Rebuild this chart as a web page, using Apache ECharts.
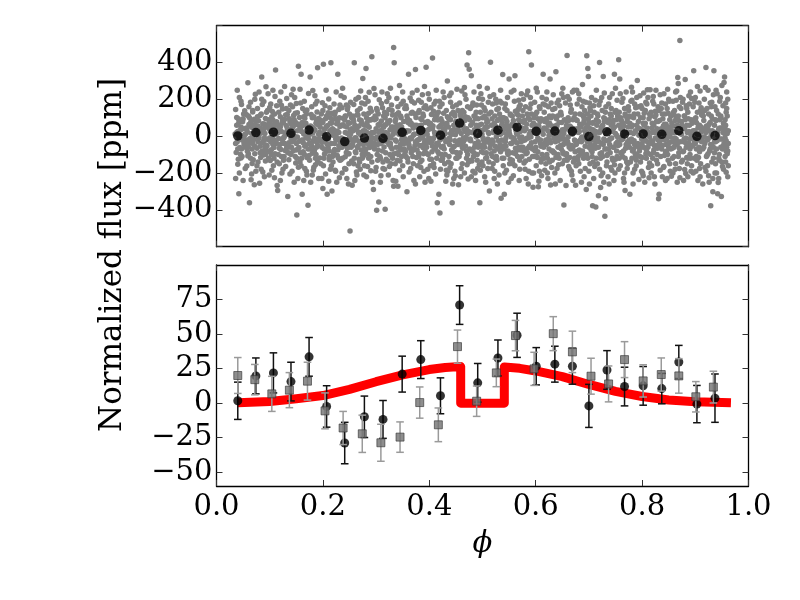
<!DOCTYPE html>
<html>
<head>
<meta charset="utf-8">
<script src="https://cdn.jsdelivr.net/npm/echarts/dist/echarts.min.js"></script>
<style>html,body{margin:0;padding:0;background:#fff;}#chart{width:800px;height:600px;}</style>
</head>
<body>
<div id="chart"></div>
<script>
// Top panel raw points: flat pairs (phase x 1000, flux in ppm)
const rawPoints = [
35,12,37,-88,36,145,39,-30,38,60,40,-152,41,95,42,-5,43,210,44,-61,45,33,46,-118,47,172,48,-20,49,78,50,-240,51,120,52,-45,53,8,54,-175,36,-230,42,-312,45,-98,38,102,47,-70,50,40,53,138,41,-125,44,5,39,250,52,-15,49,88,46,190,54,-60,40,25,43,-200,
55,-40,56,118,57,-162,58,22,59,290,60,-95,61,64,62,-362,63,-12,64,185,65,-236,66,48,67,-70,68,132,69,-128,70,7,71,92,72,-55,73,228,74,-190,57,35,59,-108,61,160,63,-25,65,80,67,-148,69,15,71,-263,73,55,58,-82,60,110,62,-38,64,70,66,-205,68,140,70,-18,72,200,74,30,
75,28,76,-66,77,150,78,-140,79,84,80,-8,81,-255,82,112,83,42,84,-180,85,321,86,-35,87,68,88,-102,89,188,90,-220,91,15,92,96,93,-48,94,130,76,-160,78,55,80,240,82,-90,84,18,86,172,88,-28,90,66,92,-135,94,-76,77,105,79,-10,81,45,83,-115,85,200,87,-195,89,38,91,-58,93,268,
95,-52,96,140,97,-18,98,90,99,-210,100,36,101,-132,102,175,103,-74,104,62,105,-6,106,250,107,-160,108,20,109,120,110,-95,111,360,112,-40,113,78,114,-268,96,48,98,-120,100,156,102,-30,104,-185,106,88,108,-62,110,215,112,10,114,-140,97,230,99,72,101,-8,103,-100,105,134,107,52,109,-225,111,-22,113,165,
115,-295,116,60,117,-12,118,-150,119,190,120,105,121,-72,122,25,123,-200,124,148,125,-38,126,80,127,-110,128,270,129,5,130,-165,131,58,132,-60,133,118,134,-328,116,-100,118,36,120,-240,122,168,124,-20,126,-130,128,92,130,14,132,205,134,-88,117,130,119,-45,121,240,123,70,125,-180,127,-5,129,-78,131,150,133,45,
135,20,136,-128,137,95,138,-58,139,170,140,-12,141,225,142,-190,143,46,144,-80,145,112,146,-250,147,-2,148,62,149,-145,150,178,151,-428,152,30,153,-70,154,380,136,140,138,-205,140,68,142,-30,144,255,146,90,148,-110,150,-40,152,128,154,-168,137,-92,139,18,141,-60,143,160,145,-15,147,210,149,75,151,-120,153,-230,
155,-62,156,102,157,-140,158,40,159,337,160,-22,161,-315,162,150,163,-85,164,12,165,190,166,-175,167,66,168,-48,169,120,170,-210,171,4,172,-375,173,232,174,-105,156,-28,158,180,160,-120,162,58,164,-240,166,98,168,-8,170,142,172,-70,174,28,157,255,159,-160,161,75,163,-35,165,-98,167,135,169,-190,171,50,173,-15,
175,-130,176,321,177,55,178,-40,179,160,180,-92,181,18,182,-185,183,105,184,-10,185,220,186,-155,187,70,188,-60,189,132,190,371,191,-26,192,-230,193,88,194,-118,176,10,178,118,180,-210,182,46,184,-78,186,175,188,-32,190,-140,192,96,194,22,177,-250,179,-55,181,248,183,-168,185,35,187,-100,189,190,191,62,193,-12,
195,48,196,-150,197,120,198,-34,199,80,200,-284,201,391,202,15,203,-96,204,165,205,-205,206,-4,207,110,208,-315,209,58,210,-62,211,202,212,-128,213,30,214,-180,196,86,198,-230,200,140,202,-70,204,6,206,250,208,-44,210,128,212,-110,214,72,197,-18,199,182,201,-160,203,38,205,95,207,-82,209,-12,211,-245,213,155,
215,399,216,-40,217,-297,218,90,219,-140,220,25,221,175,222,-72,223,130,224,-190,225,10,226,68,227,-105,228,337,229,-20,230,145,231,-225,232,52,233,-60,234,220,216,-160,218,40,220,-95,222,118,224,-15,226,-250,228,82,230,-52,232,170,234,-128,217,125,219,5,221,-85,223,-185,225,240,227,28,229,-118,231,100,233,-30,
235,-10,236,155,237,-120,238,62,239,-48,240,210,241,-175,242,20,243,108,244,-88,245,-230,246,145,247,-28,248,75,249,-150,250,-8,251,-515,252,185,253,-60,254,40,236,-200,238,98,240,-25,242,-112,244,170,246,-65,248,-260,250,120,252,12,254,-135,237,260,239,-35,241,88,243,-180,245,50,247,160,249,-95,251,30,253,-20,
255,-266,256,110,257,-30,258,-150,259,399,260,60,261,-85,262,200,263,-20,264,-210,265,138,266,-55,267,18,268,-125,269,90,270,-180,271,245,272,-40,273,70,274,-100,256,28,258,172,260,-240,262,-8,264,115,266,-160,268,55,270,150,272,-75,274,-25,257,95,259,-120,261,35,263,-195,265,-62,267,210,269,-140,271,8,273,180,
275,313,276,-45,277,120,278,-160,279,30,280,-90,281,368,282,-220,283,75,284,-15,285,190,286,-120,287,48,288,-62,289,152,290,-188,291,15,292,431,293,-250,294,95,276,-108,278,60,280,210,282,-30,284,-165,286,125,288,-8,290,88,292,-140,294,-50,277,-210,279,175,281,-70,283,20,285,-100,287,238,289,-25,291,135,293,-35,
295,-290,296,259,297,-70,298,110,299,-12,300,-170,301,-402,302,140,303,-45,304,62,305,-357,306,198,307,-110,308,30,309,-215,310,82,311,-28,312,155,313,-140,314,5,296,-60,298,225,300,40,302,-100,304,120,306,-20,308,-250,310,178,312,-80,314,48,297,90,299,-190,301,150,303,-130,305,22,307,68,309,-40,311,240,313,-175,
315,-58,316,130,317,-397,318,20,319,-125,320,188,321,-30,322,80,323,-210,324,145,325,-5,326,-100,327,260,328,-150,329,50,330,-70,331,115,332,-240,333,482,334,399,316,-180,318,62,320,-20,322,-135,324,210,326,35,328,-60,330,140,332,10,334,-95,317,100,319,-15,321,230,323,72,325,-165,327,-40,329,170,331,-120,333,-272,
335,40,336,-150,337,92,338,-28,339,205,340,-90,341,-272,342,128,343,10,344,-185,345,62,346,-45,347,175,348,-110,349,-10,350,240,351,-220,352,80,353,-70,354,150,336,-20,338,118,340,-130,342,30,344,275,346,-75,348,50,350,-160,352,-5,354,-95,337,-245,339,58,341,160,343,-60,345,-135,347,100,349,20,351,190,353,-40,
355,-82,356,165,357,-20,358,-301,359,95,360,-140,361,337,362,28,363,-65,364,208,365,-175,366,70,367,-8,368,130,369,-110,370,45,371,-240,372,180,373,-50,374,362,356,20,358,110,360,-30,362,-195,364,65,366,-90,368,235,370,-150,372,12,374,-259,357,150,359,-120,361,-40,363,85,365,-15,367,190,369,55,371,-75,373,120,
375,102,376,-38,377,250,378,-160,379,15,380,-92,381,140,382,-220,383,58,384,-5,385,185,386,-130,387,36,388,-62,389,110,390,-190,391,270,392,-25,393,75,394,375,376,-115,378,48,380,195,382,-50,384,-170,386,90,388,-10,390,155,392,-250,394,30,377,-75,379,128,381,-18,383,-140,385,60,387,225,389,-95,391,-35,393,165,
395,-60,396,148,397,-180,398,35,399,-10,400,200,401,-125,402,70,403,-245,404,118,405,-30,406,424,407,55,408,-150,409,175,410,-70,411,12,412,-205,413,95,414,-40,396,-95,398,230,400,-20,402,-160,404,60,406,-55,408,135,410,20,412,190,414,-120,397,80,399,-230,401,40,403,155,405,-85,407,-15,409,-170,411,110,413,250,
415,-361,416,-40,417,130,418,-315,419,20,420,-417,421,-180,422,95,423,-60,424,175,425,-120,426,40,427,-8,428,210,429,-150,430,65,431,-30,432,140,433,-210,434,300,416,88,418,-95,420,160,422,-15,424,-130,426,240,428,-70,430,15,432,-185,434,105,417,-45,419,190,421,58,423,-100,425,-5,427,125,429,35,431,-245,433,70,
435,-190,436,50,437,-110,438,220,439,-20,440,90,441,-150,442,30,443,-361,444,160,445,-60,446,-230,447,120,448,-190,449,8,450,75,451,-88,452,255,453,-35,454,140,436,-140,438,-10,440,185,442,-75,444,-260,446,60,448,110,450,-120,452,25,454,-45,437,95,439,-170,441,235,443,10,445,130,447,-55,449,-215,451,170,453,-95,
455,-263,456,30,457,180,458,-90,459,110,460,-40,461,245,462,-150,463,60,464,-10,465,130,466,-200,467,85,468,-55,469,200,470,-120,471,386,472,15,473,-232,474,453,456,-110,458,70,460,-175,462,140,464,-30,466,265,468,25,470,-80,472,160,474,-140,457,-20,459,-220,461,95,463,-65,465,40,467,225,469,-5,471,-155,473,100,
475,364,476,-70,477,150,478,-25,479,328,480,-135,481,75,482,-190,483,20,484,240,485,-60,486,110,487,-240,488,-5,489,170,490,-100,491,48,492,-30,493,205,494,-155,476,90,478,-130,480,20,482,180,484,-90,486,-200,488,130,490,55,492,-60,494,270,477,-15,479,-220,481,165,483,-110,485,35,487,95,489,-45,491,-175,493,60,
495,-361,496,130,497,-50,498,65,499,-140,500,200,501,-10,502,-90,503,155,504,-220,505,40,506,-120,507,95,508,-30,509,260,510,-175,511,20,512,120,513,-297,514,-65,496,-185,498,170,500,-60,502,35,504,110,506,-250,508,75,510,-15,512,-140,514,215,497,230,499,10,501,-160,503,-40,505,140,507,-90,509,50,511,185,513,-25,
515,402,516,-95,517,60,518,-20,519,175,520,-150,521,30,522,-230,523,110,524,-55,525,200,526,-5,527,-130,528,85,529,-70,530,150,531,-210,532,15,533,-45,534,250,516,130,518,-175,520,-30,522,70,524,-120,526,180,528,-260,530,25,532,95,534,-85,517,-40,519,-110,521,225,523,-190,525,50,527,145,529,10,531,-65,533,190,
535,-337,536,60,537,-120,538,335,539,20,540,-70,541,-315,542,150,543,-30,544,95,545,-185,546,5,547,210,548,-100,549,45,550,310,551,-150,552,120,553,-40,554,-230,536,180,538,-55,540,100,542,-200,544,-10,546,140,548,-80,550,30,552,-125,554,240,537,75,539,-160,541,-25,543,175,545,60,547,-90,549,-250,551,12,553,115,
555,-40,556,-130,557,-150,558,85,559,-10,560,190,561,328,562,-95,563,30,564,40,565,120,566,-75,567,145,568,-60,569,160,570,-180,571,25,572,-30,573,230,574,-110,556,65,558,-215,560,-20,562,135,564,-70,566,10,568,195,570,-130,572,80,574,-5,557,-90,559,250,561,-160,563,55,565,-35,567,115,569,-240,571,170,573,-60,
575,110,576,-60,577,200,578,-145,579,30,580,-20,581,160,582,-230,583,65,584,-90,585,245,586,-10,587,458,588,-125,589,90,590,-50,591,175,592,386,593,-200,594,20,576,140,578,-80,580,-180,582,40,584,120,586,-260,588,10,590,210,592,-35,594,-110,577,-15,579,85,581,-135,583,225,585,-65,587,-190,589,150,591,-5,593,60,
595,-277,596,70,597,-110,598,185,599,-30,600,120,601,-160,602,15,603,240,604,-85,605,-275,606,55,607,-190,608,150,609,-20,610,95,611,-125,612,210,613,-50,614,337,596,-200,598,40,600,-60,602,130,604,-10,606,-245,608,80,610,-140,612,25,614,175,597,100,599,-80,601,260,603,-115,605,30,607,160,609,-40,611,-215,613,90,
615,-60,616,130,617,-185,618,40,619,-20,620,200,621,-100,622,75,623,-230,624,160,625,5,626,-140,627,310,628,-35,629,100,630,-170,631,55,632,-80,633,225,634,-10,616,-120,618,170,620,-45,622,-200,624,60,626,110,628,-265,630,20,632,145,634,-90,617,80,619,-150,621,240,623,30,625,-70,627,-25,629,180,631,-130,633,50,
635,-90,636,150,637,-30,638,350,639,60,640,-175,641,110,642,-60,643,195,644,-120,645,20,646,-240,647,130,648,-15,649,75,650,-150,651,260,652,-45,653,-373,654,90,636,-200,638,40,640,180,642,-100,644,5,646,120,648,-70,650,35,652,210,654,-130,637,-260,639,95,641,-10,643,-155,645,165,647,-50,649,230,651,-85,653,15,
655,-30,656,180,657,-268,658,60,659,438,660,-120,661,100,662,-45,663,200,664,-180,665,25,666,-70,667,145,668,-210,669,10,670,90,671,-140,672,250,673,-20,674,120,656,-100,658,-15,660,215,662,-165,664,55,666,130,668,-50,670,-240,672,30,674,-85,657,85,659,-130,661,-5,663,-60,665,170,667,-190,669,240,671,40,673,-120,
675,-266,676,90,677,-40,678,175,679,-130,680,20,681,230,682,-75,683,120,684,-190,685,50,686,-10,687,160,688,281,689,-100,690,70,691,-220,692,140,693,-55,694,10,676,-160,678,40,680,-80,682,200,684,-20,686,-250,688,115,690,-120,692,30,694,185,677,250,679,-30,681,-150,683,65,685,-95,687,-5,689,190,691,85,693,-175,
695,-290,696,437,697,120,698,368,699,324,700,-60,701,180,702,-150,703,40,704,-20,705,210,706,-110,707,-377,708,75,709,-230,710,130,711,-45,712,15,713,-384,714,250,696,-100,698,60,700,-190,702,155,704,-75,706,30,708,-140,710,-10,712,195,714,-120,697,-30,699,95,701,-260,703,140,705,-55,707,70,709,165,711,-165,713,25,
715,60,716,-150,717,110,718,-323,719,-30,720,400,721,190,722,-279,723,45,724,-90,725,140,726,-200,727,324,728,-15,729,80,730,-435,731,-340,732,160,733,-70,734,20,716,120,718,-60,720,-180,722,30,724,210,726,-110,728,-250,730,95,732,-25,734,-140,717,-10,719,170,721,-95,723,-215,725,55,727,-45,729,235,731,130,733,-160,
735,-100,736,30,737,175,738,-259,739,-45,740,120,741,-170,742,60,743,-10,744,230,745,-130,746,85,747,-60,748,337,749,-200,750,15,751,140,752,-80,753,195,754,-30,736,-220,738,90,740,-15,742,150,744,-120,746,40,748,-155,750,260,752,5,754,110,737,-70,739,210,741,25,743,-185,745,70,747,-240,749,130,751,-40,753,-110,
755,-50,756,415,757,130,758,310,759,-160,760,40,761,-20,762,185,763,-110,764,70,765,-230,766,10,767,150,768,-295,769,-65,770,240,771,-140,772,95,773,-30,774,50,756,-180,758,60,760,-90,762,-10,764,205,766,-250,768,120,770,-45,772,-175,774,160,757,-120,759,230,761,85,763,35,765,-80,767,-200,769,110,771,20,773,-150,
775,140,776,-60,777,-315,778,20,779,190,780,266,781,-120,782,60,783,-200,784,100,785,-25,786,175,787,-95,788,30,789,-160,790,210,791,303,792,-40,793,80,794,-235,776,110,778,-140,780,-15,782,240,784,-70,786,-180,788,155,790,-100,792,45,794,5,777,70,779,-30,781,195,783,-260,785,120,787,25,789,-130,791,-55,793,160,
795,-80,796,220,797,-140,798,35,799,-15,800,150,801,-200,802,70,803,-60,804,125,805,-250,806,10,807,185,808,-120,809,45,810,-30,811,210,812,-170,813,95,814,-5,796,-110,798,165,800,-40,802,-215,804,60,806,140,808,-75,810,252,812,20,814,-145,797,100,799,-190,801,30,803,235,805,-20,807,-95,809,175,811,-60,813,-225,
815,252,816,-40,817,130,818,-160,819,20,820,190,821,-90,822,60,823,-220,824,105,825,-10,826,250,827,-130,828,40,829,-65,830,160,831,-340,832,-315,833,85,834,-185,816,110,818,-25,820,-120,822,175,824,-260,826,30,828,-100,830,-20,832,140,834,225,817,-200,819,70,821,215,823,-50,825,135,827,80,829,-150,831,10,833,-35,
835,-110,836,40,837,180,838,-50,839,95,840,-170,841,230,842,-20,843,120,844,-240,845,65,846,-80,847,150,848,5,849,-130,850,200,851,-35,852,90,853,-190,854,30,836,150,838,-220,840,55,842,-105,844,175,846,-15,848,255,850,-60,852,-150,854,110,837,-70,839,15,841,-165,843,40,845,-45,847,-230,849,125,851,190,853,-5,
855,-217,856,70,857,-120,858,190,859,20,860,-60,861,140,862,-180,863,240,864,-15,865,100,866,-250,867,319,868,286,869,-90,870,160,871,520,872,-30,873,55,874,-140,856,30,858,-200,860,115,862,-40,864,195,866,60,868,-110,870,-175,872,210,874,10,857,-65,859,130,861,-10,863,-150,865,245,867,-30,869,85,871,-225,873,150,
875,60,876,-130,877,200,878,-30,879,110,880,-181,881,308,882,-203,883,-60,884,150,885,20,886,-220,887,95,888,-45,889,175,890,-100,891,240,892,5,893,-160,894,70,876,185,878,-240,880,40,882,-10,884,-115,886,130,888,220,890,-70,892,-190,894,15,877,-85,879,-15,881,90,883,165,885,-150,887,-35,889,60,891,-120,893,205,
895,-50,896,160,897,355,898,-120,899,30,900,210,901,-190,902,75,903,-20,904,130,905,-240,906,10,907,180,908,-85,909,245,910,-150,911,50,912,-30,913,120,914,-259,896,-200,898,90,900,-40,902,-110,904,270,906,60,908,-175,910,140,912,25,914,-70,897,-15,899,185,901,100,903,-130,905,45,907,-60,909,-220,911,155,913,-5,
915,110,916,-60,917,200,918,-170,919,30,920,373,921,-110,922,150,923,-20,924,250,925,-215,926,65,927,-80,928,180,929,-377,930,10,931,-140,932,95,933,-301,934,225,916,-30,918,140,920,-190,922,40,924,-95,926,-250,928,75,930,160,932,-55,934,-120,917,-5,919,265,921,55,923,-160,925,120,927,30,929,-45,931,185,933,-230,
935,355,936,-90,937,160,938,-30,939,85,940,-200,941,230,942,-312,943,-252,944,40,945,-130,946,190,947,-15,948,110,949,-328,950,275,951,-70,952,20,953,-180,954,292,936,60,938,-150,940,140,942,5,944,-230,946,90,948,-60,950,-140,952,165,954,-40,937,-200,939,250,941,-25,943,120,945,-100,947,210,949,45,951,-165,953,70,
955,321,956,-110,957,60,958,-196,959,150,960,-40,961,200,962,-160,956,90,958,-25,960,110,962,30,957,-140,959,240,961,-80,955,15,957,180,959,-60,961,-220,956,-10,958,130,960,-95
];

// Additional points inside the dense core band (same units)
const corePoints = [
36,-40,38,20,40,-70,42,75,44,-15,46,50,48,-110,50,95,52,-35,54,10,
56,45,58,-20,60,-60,62,100,64,-120,66,15,68,-40,70,60,72,-95,74,80,
76,85,78,-30,80,10,82,-55,84,120,86,-80,88,40,90,-10,92,-100,94,55,
96,-15,98,60,100,-85,102,25,104,105,106,-45,108,-120,110,70,112,-25,114,35,
116,20,118,-65,120,50,122,-110,124,85,126,-10,128,-40,130,115,132,25,134,-60,
136,-35,138,80,140,-100,142,15,144,55,146,-20,148,125,150,-75,152,-5,154,65,
156,55,158,-90,160,25,162,-20,164,105,166,-55,168,70,170,-115,172,15,174,-40,
176,-70,178,50,180,100,182,-25,184,30,186,-120,188,85,190,-50,192,10,194,70,
196,15,198,-60,200,75,202,-120,204,-30,206,50,208,110,210,-15,212,-80,214,100,
216,70,218,-110,220,35,222,-40,224,95,226,-10,228,-75,230,20,232,-130,234,60,
236,-60,238,-15,240,55,242,110,244,-40,246,15,248,-95,250,70,252,-50,254,100,
256,-50,258,80,260,-10,262,-90,264,40,266,115,268,-30,270,20,272,85,274,-120,
276,30,278,-70,280,-20,282,100,284,55,286,-45,288,90,290,-110,292,20,294,-10,
296,20,298,-40,300,95,302,-5,304,-75,306,60,308,-120,310,30,312,-30,314,110,
316,60,318,-90,320,120,322,10,324,-45,326,85,328,-10,330,-110,332,50,334,25,
336,80,338,-60,340,20,342,-100,344,45,346,110,348,-20,350,-70,352,30,354,-15,
356,-110,358,30,360,75,362,-50,364,-10,366,125,368,-70,370,5,372,60,374,-30,
376,60,378,-20,380,-110,382,30,384,95,386,-50,388,120,390,10,392,-80,394,-40,
396,10,398,-100,400,65,402,-35,404,-125,406,40,408,-10,410,90,412,-60,414,115,
416,-85,418,50,420,-20,422,-130,424,80,426,-55,428,20,430,-100,432,55,434,-20,
436,100,438,-45,440,15,442,120,444,-85,446,35,448,-25,450,80,452,-120,454,50,
456,-40,458,120,460,15,462,-60,464,85,466,-20,468,105,470,40,472,-100,474,25,
476,-20,478,60,480,-80,482,20,484,110,486,-40,488,60,490,-130,492,95,494,5,
496,30,498,-85,500,100,502,-20,504,-60,506,50,508,-115,510,80,512,15,514,-40,
516,-45,518,95,520,20,522,-80,524,55,526,-110,528,30,530,-25,532,120,534,10,
536,-20,538,100,540,-120,542,40,544,-55,546,80,548,20,550,-90,552,55,554,-5,
556,110,558,-30,560,60,562,-65,564,15,566,-110,568,90,570,-10,572,-75,574,45,
576,-25,578,75,580,40,582,-95,584,-10,586,100,588,-55,590,25,592,120,594,-70,
596,25,598,-75,600,60,602,-110,604,95,606,-20,608,35,610,-55,612,-100,614,10,
616,45,618,-35,620,95,622,-120,624,-15,626,70,628,10,630,-80,632,110,634,40,
636,10,638,-115,640,55,642,-25,644,75,646,-60,648,115,650,-5,652,-95,654,35,
656,40,658,-95,660,-30,662,85,664,-115,666,50,668,15,670,-60,672,100,674,-25,
676,-45,678,85,680,-110,682,25,684,60,686,-30,688,-80,690,105,692,-15,694,45,
696,20,698,-120,700,75,702,-40,704,110,706,-85,708,35,710,-20,712,-65,714,90,
716,-25,718,80,720,20,722,-120,724,-40,726,60,728,100,730,-70,732,15,734,-105,
736,75,738,-20,740,-90,742,110,744,25,746,-60,748,50,750,-125,752,90,754,-5,
756,60,758,-45,760,100,762,-90,764,-15,766,55,768,-120,770,20,772,80,774,-40,
776,-20,778,105,780,50,782,-80,784,15,786,-45,788,-110,790,60,792,120,794,-60,
796,40,798,-60,800,-115,802,100,804,-20,806,70,808,25,810,-90,812,-35,814,120,
816,-100,818,45,820,-30,822,-75,824,20,826,115,828,-50,830,80,832,10,834,-20,
836,-55,838,120,840,-15,842,65,844,-85,846,30,848,-100,850,50,852,15,854,-70,
856,-30,858,55,860,-110,862,85,864,20,866,-45,868,110,870,-65,872,15,874,80,
876,45,878,-80,880,110,882,-35,884,60,886,-120,888,25,890,-15,892,90,894,-55,
896,30,898,-35,900,95,902,-70,904,10,906,-115,908,60,910,-25,912,115,914,40,
916,85,918,-40,920,20,922,-105,924,55,926,-10,928,-70,930,110,932,30,934,-60,
936,-30,938,90,940,-70,942,25,944,-120,946,45,948,100,950,-15,952,-55,954,65,
956,40,958,-80,960,15,962,-40
];

// Binned points (black circles), same values in both panels
const binPhase = [0.040,0.074,0.107,0.140,0.174,0.207,0.241,0.278,0.313,0.349,0.384,0.421,0.457,0.491,0.529,0.565,0.601,0.636,0.669,0.700,0.734,0.767,0.802,0.837,0.869,0.903,0.937];
const binFlux  = [1.7,19.7,21.9,15.6,33.5,-2.4,-28.9,-9.9,-11.8,21.0,31.5,5.3,71.0,14.7,32.7,49.1,26.7,28.2,26.7,-2.0,24.0,12.0,12.5,10.5,29.8,-0.7,3.6];
const binErr   = [13.5,13,14.5,14,14,15,15,15,13.7,13,13.7,13,14,14,13,16,13.5,13,13,15.6,14,14,14,11,12,13.5,17.5];

// Second binned set (grey squares)
const sqPhase = [0.040,0.072,0.104,0.137,0.171,0.204,0.238,0.274,0.309,0.345,0.382,0.417,0.453,0.489,0.526,0.562,0.597,0.633,0.669,0.704,0.737,0.767,0.802,0.836,0.869,0.901,0.934];
const sqFlux  = [20.0,17.0,6.7,9.4,15.9,-5.6,-18.0,-22.2,-28.7,-24.6,0.4,-15.7,40.9,1.4,21.9,48.9,24.8,50.3,37.1,19.5,13.9,31.5,16.1,20.7,19.7,4.6,11.6];
const sqErr   = [13,11,12.7,12.7,13.7,13,12,13.5,13.4,11,11.3,12.2,12,11,10,11,12,12.3,15,13,13,13,11.7,12,12.5,11,11.5];

// Model curve (red)
const modelPhase = [0.040,0.100,0.150,0.200,0.250,0.300,0.350,0.400,0.430,0.459,0.459,0.541,0.541,0.570,0.600,0.650,0.700,0.750,0.800,0.850,0.900,0.967];
const modelFlux  = [0.3,1.2,3.2,5.5,10.0,15.5,20.5,24.3,25.8,26.5,0,0,26.2,25.2,23.3,19.2,13.5,8.5,4.8,2.3,1.0,0.2];

const xTicks = [0, 0.2, 0.4, 0.6, 0.8, 1.0];
const topYTicks = [-400, -200, 0, 200, 400];
const bottomYTicks = [-50, -25, 0, 25, 50, 75];

const FONT = 'DejaVu Serif';
const fmtNum = v => (v < 0 ? '\u2212' + Math.abs(v) : String(v));

const scatterData = [];
[rawPoints, corePoints].forEach(arr => {
  for (let i = 0; i < arr.length; i += 2) scatterData.push([arr[i] / 1000, arr[i + 1]]);
});
const binData = binPhase.map((p, i) => [p, binFlux[i]]);
const binErrData = binPhase.map((p, i) => [p, binFlux[i], binErr[i]]);
const sqData = sqPhase.map((p, i) => [p, sqFlux[i]]);
const sqErrData = sqPhase.map((p, i) => [p, sqFlux[i], sqErr[i]]);
const modelData = modelPhase.map((p, i) => [p, modelFlux[i]]);

function errRender(color) {
  return function (params, api) {
    const x = api.value(0), y = api.value(1), e = api.value(2);
    const lo = api.coord([x, y - e]), hi = api.coord([x, y + e]);
    const w = 3.8;
    const st = { stroke: color, lineWidth: 1.5 };
    return { type: 'group', children: [
      { type: 'line', shape: { x1: lo[0], y1: lo[1], x2: hi[0], y2: hi[1] }, style: st },
      { type: 'line', shape: { x1: lo[0] - w, y1: lo[1], x2: lo[0] + w, y2: lo[1] }, style: st },
      { type: 'line', shape: { x1: hi[0] - w, y1: hi[1], x2: hi[0] + w, y2: hi[1] }, style: st }
    ]};
  };
}

const axisLine = { show: true, onZero: false, lineStyle: { color: '#000', width: 1.3 } };
const tick = { show: true, inside: true, length: 6, lineStyle: { color: '#333', width: 1 } };
const labelStyle = { color: '#000', fontFamily: FONT, fontSize: 29 };

function xAx(grid, pos, showLabel) {
  return {
    type: 'value', gridIndex: grid, position: pos, min: 0, max: 1, interval: 0.2,
    axisLine, axisTick: Object.assign({}, tick),
    axisLabel: Object.assign({ show: showLabel, margin: 7, formatter: v => v.toFixed(1) }, labelStyle),
    splitLine: { show: false }
  };
}

const chart = echarts.init(document.getElementById('chart'), null, { renderer: 'canvas' });
chart.setOption({
  animation: false,
  backgroundColor: '#fff',
  grid: [
    { left: 216.5, top: 25.7, width: 532, height: 221 },
    { left: 216.5, top: 265, width: 532, height: 221 }
  ],
  xAxis: [xAx(0, 'bottom', false), xAx(0, 'top', false), xAx(1, 'bottom', true), xAx(1, 'top', false)],
  yAxis: [
    { type: 'value', gridIndex: 0, position: 'left', min: -600, max: 600, interval: 200,
      axisLine, axisTick: tick,
      axisLabel: Object.assign({ margin: 4, formatter: v => (topYTicks.indexOf(v) >= 0 ? fmtNum(v) : '') }, labelStyle),
      splitLine: { show: false } },
    { type: 'value', gridIndex: 0, position: 'right', min: -600, max: 600, interval: 200,
      axisLine, axisTick: tick, axisLabel: { show: false }, splitLine: { show: false } },
    { type: 'value', gridIndex: 1, position: 'left', min: -60, max: 100,
      axisLine, axisTick: Object.assign({ customValues: bottomYTicks }, tick),
      axisLabel: Object.assign({ margin: 4, customValues: bottomYTicks, formatter: v => fmtNum(v) }, labelStyle),
      splitLine: { show: false } },
    { type: 'value', gridIndex: 1, position: 'right', min: -60, max: 100,
      axisLine, axisTick: Object.assign({ customValues: bottomYTicks }, tick),
      axisLabel: { show: false }, splitLine: { show: false } }
  ],
  series: [
    { type: 'scatter', xAxisIndex: 0, yAxisIndex: 0, data: scatterData, symbol: 'circle', symbolSize: 5.5,
      itemStyle: { color: '#808080', opacity: 1 }, silent: true, z: 2 },
    { type: 'scatter', xAxisIndex: 0, yAxisIndex: 0, data: binData, symbol: 'circle', symbolSize: 9.5,
      itemStyle: { color: '#000' }, silent: true, z: 3 },
    { type: 'line', xAxisIndex: 2, yAxisIndex: 2, data: modelData, showSymbol: false, symbol: 'none', smooth: false,
      lineStyle: { color: '#ff0000', width: 9, join: 'round', cap: 'butt' }, silent: true, z: 2 },
    { type: 'custom', xAxisIndex: 2, yAxisIndex: 2, data: binErrData, renderItem: errRender('#111'),
      encode: { x: 0, y: 1 }, silent: true, z: 3 },
    { type: 'scatter', xAxisIndex: 2, yAxisIndex: 2, data: binData, symbol: 'circle', symbolSize: 9,
      itemStyle: { color: '#000' }, silent: true, z: 4 },
    { type: 'custom', xAxisIndex: 2, yAxisIndex: 2, data: sqErrData, renderItem: errRender('#9a9a9a'),
      encode: { x: 0, y: 1 }, silent: true, z: 5 },
    { type: 'scatter', xAxisIndex: 2, yAxisIndex: 2, data: sqData, symbol: 'rect', symbolSize: 8,
      itemStyle: { color: '#727272', borderColor: '#333', borderWidth: 0.8 }, silent: true, z: 6 }
  ],
  graphic: [
    { type: 'text', x: 112.8, y: 255, rotation: Math.PI / 2,
      style: { text: 'Normalized flux [ppm]', fontFamily: FONT, fontSize: 31, fill: '#000',
               textAlign: 'center', textVerticalAlign: 'middle' } },
    { type: 'text', x: 482.5, y: 544,
      style: { text: '\u03D5', fontFamily: FONT, fontStyle: 'italic', fontSize: 29, fill: '#000',
               textAlign: 'center', textVerticalAlign: 'middle' } }
  ]
});
</script>
</body>
</html>
